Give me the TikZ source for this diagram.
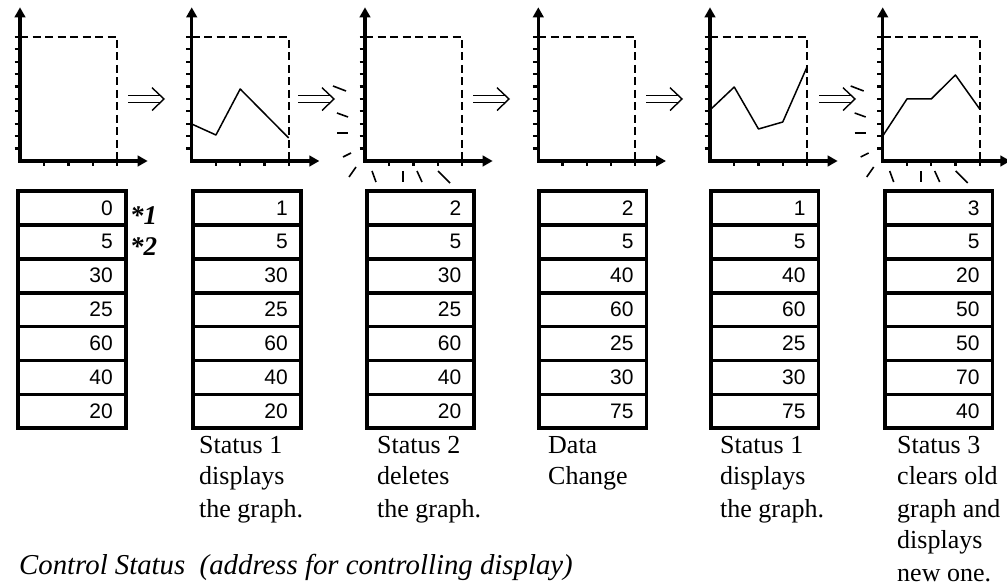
\documentclass[tikz,border=0pt]{standalone}
\usepackage{fontspec}
\setmainfont{Liberation Serif}
\newfontfamily\numfont{Liberation Sans}
\usetikzlibrary{arrows.meta}
\tikzset{
  axisline/.style={line width=3.5pt, line join=miter,
    {Triangle[length=10pt,width=10.5pt]}-{Triangle[length=10pt,width=10.5pt]}},
  tickline/.style={line width=2.2pt},
  frameline/.style={line width=2pt, dash pattern=on 8pt off 4.5pt},
  dataline/.style={line width=1.5pt, line join=round},
  erasemark/.style={line width=1.6pt},
  dblarrow/.style={line width=1.4pt},
  cell/.style={draw, line width=3.7pt, minimum width=107.5pt, minimum height=33.9pt,
    inner xsep=13pt, inner ysep=0pt, text width=81.5pt, align=right,
    font=\numfont\fontsize{21}{21}\selectfont},
  statusnote/.style={inner sep=0pt, anchor=base west, font=\fontsize{26}{32}\selectfont},
  starnote/.style={inner sep=0pt, anchor=base west, font=\fontsize{27}{27}\selectfont\bfseries\itshape},
  captiontext/.style={inner sep=0pt, anchor=base west, font=\fontsize{28.8}{30}\selectfont\itshape},
  graphbase/.pic={
    \draw[frameline] (0,-124) -- (97,-124) -- (97,0);
    \foreach \k in {1,...,10} \draw[tickline] (-5.5,-12.4*\k) -- (0,-12.4*\k);
    \foreach \k in {1,...,4} \draw[tickline] (24.25*\k,0) -- (24.25*\k,5.5);
    \draw[axisline] (0,-153.7) -- (0,0) -- (127.7,0);
  },
  erasemarks/.pic={
    \draw[erasemark] (-32,-75) -- (-19,-70);
    \draw[erasemark] (-28,-48) -- (-17,-44);
    \draw[erasemark] (-28,-28) -- (-17,-28);
    \draw[erasemark] (-22,-4) -- (-14,-8);
    \draw[erasemark] (-16,16) -- (-9,6);
    \draw[erasemark] (7,10) -- (11,21);
    \draw[erasemark] (38,10) -- (38,21);
    \draw[erasemark] (52,10) -- (57,21);
    \draw[erasemark] (73,10) -- (85,22);
  },
  dblarrowpic/.pic={
    \draw[dblarrow] (0,-3.3) -- (32,-3.3) (0,3.3) -- (32,3.3);
    \draw[dblarrow] (24,-11.3) -- (36,0) -- (24,11.5);
  }
}
\begin{document}
\begin{tikzpicture}[x=1pt,y=-1pt]
\fill[white] (0,0) rectangle (1007,585);
\useasboundingbox (0,0) rectangle (1007,585);

% graphs
\pic (gA) at (20,161) {graphbase};
\pic (gB) at (191.7,161) {graphbase};
\pic (gC) at (365,161) {graphbase};
\pic (gD) at (538.3,161) {graphbase};
\pic (gE) at (710,161) {graphbase};
\pic (gF) at (882.7,161) {graphbase};

\pic (eC) at (365,161) {erasemarks};
\pic (eF) at (882.7,161) {erasemarks};

% data lines
\begin{scope}[shift={(191.7,161)}]
  \draw[dataline] (0,-37) -- (24.25,-26) -- (48.5,-72) -- (97,-23);
\end{scope}
\begin{scope}[shift={(710,161)}]
  \draw[dataline] (0,-51) -- (24.25,-74) -- (48.5,-32) -- (72.75,-39) -- (97,-94);
\end{scope}
\begin{scope}[shift={(882.7,161)}]
  \draw[dataline] (0,-25) -- (24.25,-62) -- (48.5,-62) -- (72.75,-86) -- (97,-52);
\end{scope}

% double arrows
\pic (a1) at (128,99) {dblarrowpic};
\pic (a2) at (298,99) {dblarrowpic};
\pic (a3) at (473,99) {dblarrowpic};
\pic (a4) at (646,99) {dblarrowpic};
\pic (a5) at (819,99) {dblarrowpic};

% tables
\foreach \t/\x/\vals in {
  1/18.3/{0,5,30,25,60,40,20},
  2/193.3/{1,5,30,25,60,40,20},
  3/366.7/{2,5,30,25,60,40,20},
  4/539/{2,5,40,60,25,30,75},
  5/711/{1,5,40,60,25,30,75},
  6/885/{3,5,20,50,50,70,40}} {
  \foreach \v [count=\r] in \vals {
    \node[cell] (t\t-\r) at (\x+53.75, 174.05+33.9*\r) {\v};
  }
}

% footnote marks
\node[starnote] (m1) at (130,225) {*1};
\node[starnote] (m2) at (130,256) {*2};

% status notes
\node[statusnote] (n2) at (199,453) {\begin{tabular}[t]{@{}l@{}}Status 1\\displays\\the graph.\end{tabular}};
\node[statusnote] (n3) at (377,453) {\begin{tabular}[t]{@{}l@{}}Status 2\\deletes\\the graph.\end{tabular}};
\node[statusnote] (n4) at (548,453) {\begin{tabular}[t]{@{}l@{}}Data\\Change\end{tabular}};
\node[statusnote] (n5) at (720,453) {\begin{tabular}[t]{@{}l@{}}Status 1\\displays\\the graph.\end{tabular}};
\node[statusnote] (n6) at (897,453) {\begin{tabular}[t]{@{}l@{}}Status 3\\clears old\\graph and\\displays\\new one.\end{tabular}};

% caption
\node[captiontext] (cap) at (19,574) {Control Status\ \ (address for controlling display)};
\end{tikzpicture}
\end{document}
